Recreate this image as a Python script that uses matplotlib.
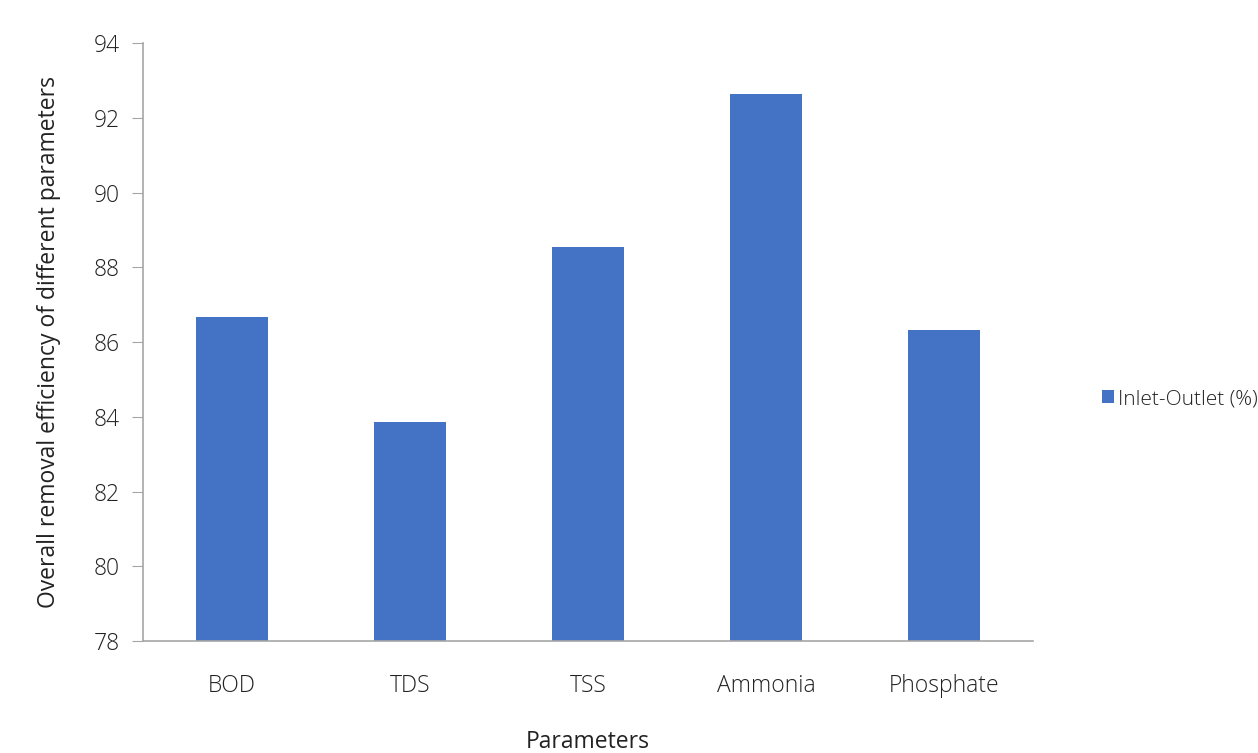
import matplotlib.pyplot as plt

params = ["BOD", "TDS", "TSS", "Ammonia", "Phosphate"]
removal = [86.67, 83.86, 88.54, 92.64, 86.32]
yticks = [78, 80, 82, 84, 86, 88, 90, 92, 94]

plt.rcParams['font.family'] = ['Open Sans', 'DejaVu Sans']
plt.rcParams['font.weight'] = 'light'

fig = plt.figure(figsize=(12.58, 7.53), dpi=100)
ax = fig.add_axes([0.1137, 0.1487, 0.7074, 0.7942])

x = range(len(params))
ax.bar(x, removal, width=0.4, color="#4472C4", label="Inlet-Outlet (%)")

ax.set_xlim(-0.5, len(params) - 0.5)
ax.set_ylim(78, 94)
ax.set_yticks(yticks)
ax.set_xticks(list(x))
ax.set_xticklabels(params)

for s in ["top", "right"]:
    ax.spines[s].set_visible(False)
for s in ["left", "bottom"]:
    ax.spines[s].set_color("#A6A6A6")
    ax.spines[s].set_linewidth(1.2)

ax.tick_params(axis="y", length=8, color="#A6A6A6", labelsize=16.5, pad=9, labelcolor="#222222")
ax.tick_params(axis="x", length=0, labelsize=16.5, pad=24, labelcolor="#222222")

ax.set_xlabel("Parameters", fontsize=16.5, labelpad=23, color="#222222")
ax.set_ylabel("Overall removal efficiency of different parameters", fontsize=16.5,
              labelpad=23, color="#222222")

fig.legend(loc="center left", bbox_to_anchor=(0.876, 0.47), frameon=False,
           fontsize=15, handlelength=0.58, handleheight=0.58, handletextpad=0.2,
           borderpad=0, borderaxespad=0, labelcolor="#222222")

fig.savefig("out.png", dpi=100)
